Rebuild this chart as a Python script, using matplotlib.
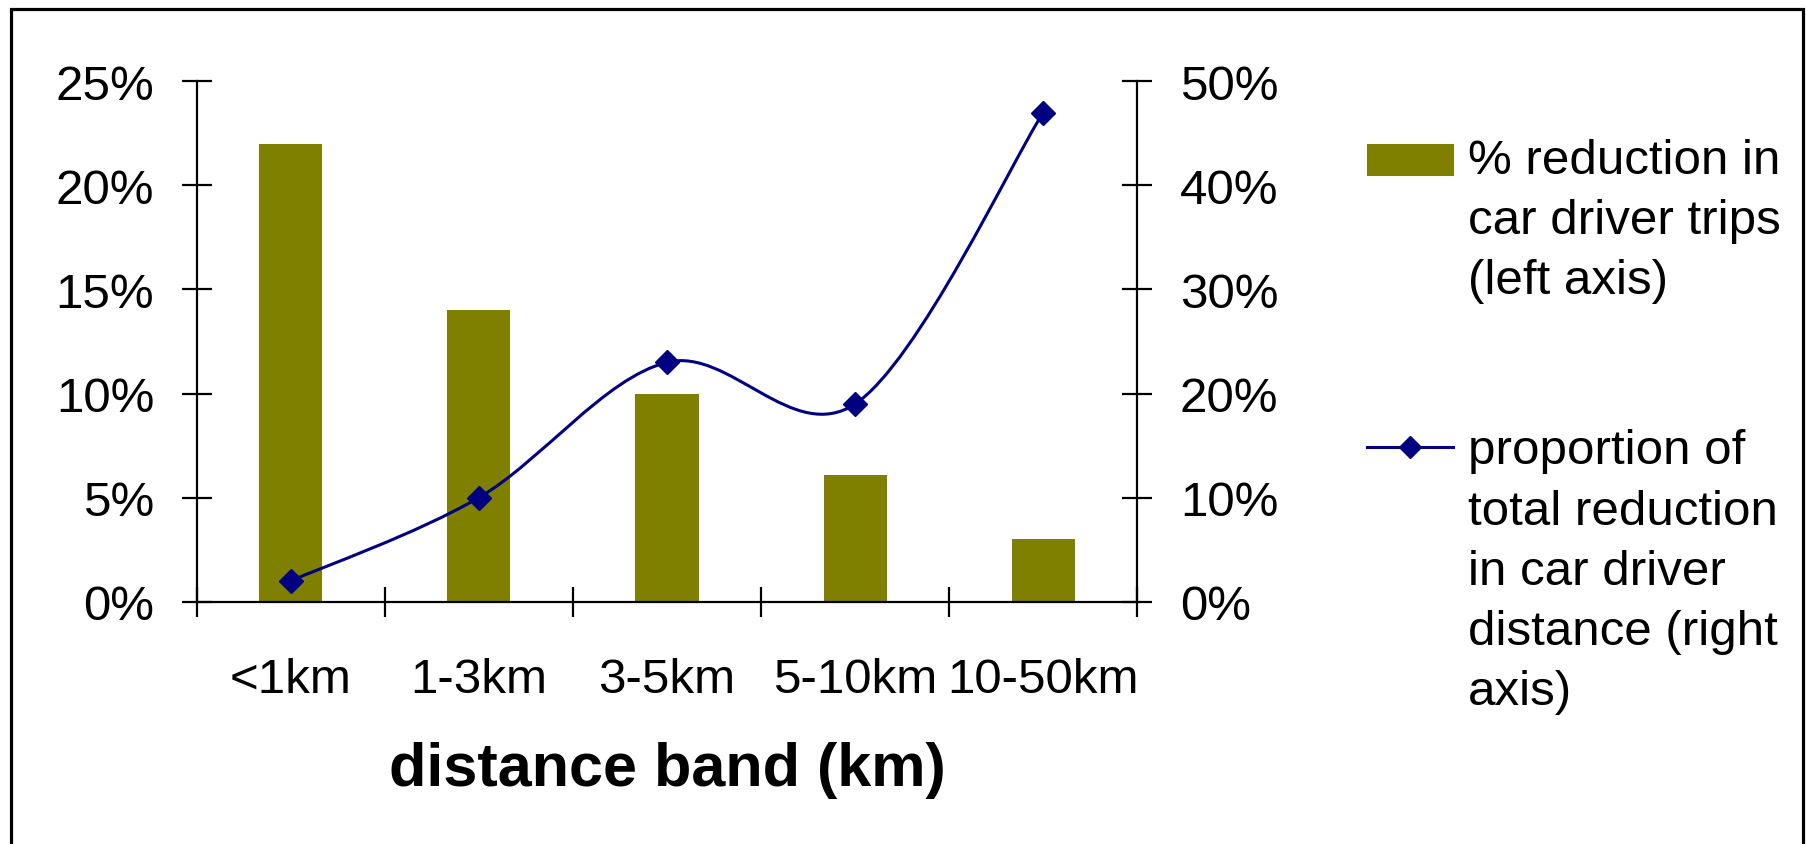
import matplotlib
matplotlib.use("Agg")
import matplotlib.pyplot as plt
from matplotlib.path import Path
from matplotlib.patches import PathPatch, Rectangle
from matplotlib.lines import Line2D
import numpy as np

# ---- data ----
categories = ["<1km", "1-3km", "3-5km", "5-10km", "10-50km"]
trip_reduction = [22, 14, 10, 6.1, 3]      # % reduction in car driver trips (left axis)
distance_share = [2, 10, 23, 19, 47]       # share of total reduction in car driver distance (right axis)
left_ticks = [0, 5, 10, 15, 20, 25]
right_ticks = [0, 10, 20, 30, 40, 50]

bar_label = "% reduction in\ncar driver trips\n(left axis)"
line_label = "proportion of\ntotal reduction\nin car driver\ndistance (right\naxis)"
x_title = "distance band (km)"

OLIVE = "#808000"
NAVY = "#000080"
FS = 35.5

plt.rcParams["font.family"] = ["Liberation Sans", "DejaVu Sans"]

W, H = 1808, 845
fig = plt.figure(figsize=(W / 100, H / 100), dpi=100)


def fx(px):
    return px / W


def fy(py):
    return 1 - py / H


ax = fig.add_axes([fx(196.7), fy(602.7), fx(1137.3) - fx(196.7), fy(82.3) - fy(602.7)])
ax2 = ax.twinx()

x = np.arange(len(categories))
ax.bar(x, trip_reduction, width=0.335, color=OLIVE, zorder=2)

# smoothed series: cubic Bezier segments with Catmull-Rom control points
pts = np.column_stack([x, distance_share]).astype(float)
n = len(pts)
verts = [pts[0]]
codes = [Path.MOVETO]
for i in range(n - 1):
    p0 = pts[i - 1] if i > 0 else pts[i]
    p1 = pts[i]
    p2 = pts[i + 1]
    p3 = pts[i + 2] if i + 2 < n else pts[i + 1]
    verts += [p1 + (p2 - p0) / 6, p2 - (p3 - p1) / 6, p2]
    codes += [Path.CURVE4] * 3
ax2.add_patch(PathPatch(Path(verts, codes), fill=False, edgecolor=NAVY, lw=2.2,
                        capstyle="round", joinstyle="round", zorder=3))
ax2.plot(x, distance_share, linestyle="none", marker="D", ms=12, 
         mfc=NAVY, mec=NAVY, mew=1, zorder=4)

ax.set_xlim(-0.5, len(categories) - 0.5)
ax.set_ylim(0, 25)
ax2.set_ylim(0, 50)

ax.set_yticks(left_ticks, [f"{t}%" for t in left_ticks])
ax2.set_yticks(right_ticks, [f"{t}%" for t in right_ticks])
ax.set_xticks(np.arange(-0.5, len(categories)), labels=[])
ax.set_xticks(x, categories, minor=True)

tick_kw = dict(direction="inout", length=22.3, width=1.6, color="black")
ax.tick_params(axis="x", which="major", **tick_kw)
ax.tick_params(axis="x", which="minor", length=0, pad=39.5, labelsize=FS)
ax.tick_params(axis="y", labelsize=FS, pad=19.5, **tick_kw)
ax2.tick_params(axis="y", labelsize=FS, pad=19.5, **tick_kw)

for name in ("top", "right"):
    ax.spines[name].set_visible(False)
for name in ("top", "left", "bottom"):
    ax2.spines[name].set_visible(False)
for sp in (ax.spines["left"], ax.spines["bottom"], ax2.spines["right"]):
    sp.set_linewidth(1.6)

ax.set_xlabel(x_title, fontsize=44, fontweight="bold")
ax.xaxis.set_label_coords(0.5, (602.7 - 742) / 520.4)

# legend
fig.add_artist(Rectangle((fx(1366.7), fy(176.7)), fx(1454) - fx(1366.7), fy(145) - fy(176.7),
                         transform=fig.transFigure, facecolor=OLIVE, edgecolor="none"))
fig.text(fx(1468), fy(139), bar_label, ha="left", va="top", fontsize=FS, linespacing=1.43)
fig.add_artist(Line2D([fx(1367), fx(1410), fx(1453)], [fy(448.3)] * 3, transform=fig.transFigure,
                      color=NAVY, lw=2.2, marker="D", markevery=[1], ms=11.5,
                      mfc=NAVY, mec=NAVY, mew=1))
fig.text(fx(1468), fy(429.5), line_label, ha="left", va="top", fontsize=FS, linespacing=1.43)

# chart frame
fig.add_artist(Rectangle((fx(11.2), -0.05), fx(1803.5) - fx(11.2), fy(10.2) + 0.05,
                         transform=fig.transFigure, fill=False, lw=2.3, edgecolor="black"))

fig.savefig("out.png", dpi=100)
